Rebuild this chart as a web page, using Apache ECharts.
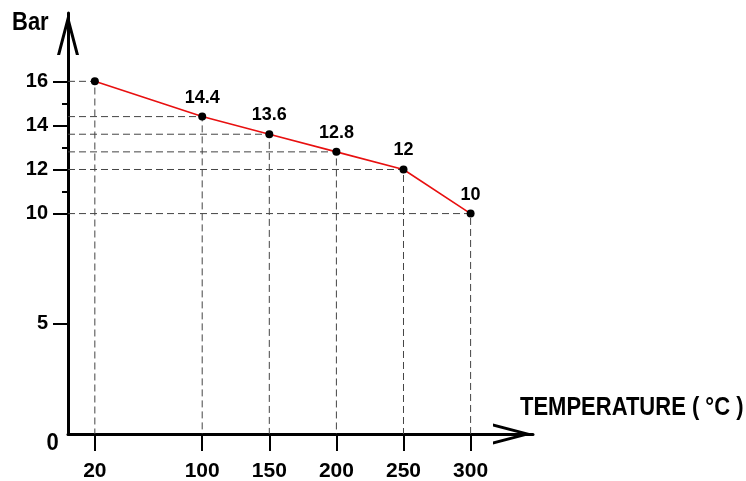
<!DOCTYPE html>
<html>
<head>
<meta charset="utf-8">
<script src="https://cdn.jsdelivr.net/npm/echarts@6/dist/echarts.min.js"></script>
<style>html,body{margin:0;padding:0;background:#fff;}#c{width:746px;height:481px;}</style>
</head>
<body>
<div id="c"></div>
<script>
// Data
const temperatures = [20, 100, 150, 200, 250, 300];
const pressures = [16, 14.4, 13.6, 12.8, 12, 10];
const labelledPoints = [false, true, true, true, true, true];
const xTickLabels = [20, 100, 150, 200, 250, 300];
const yTickLabels = [0, 5, 10, 12, 14, 16];
const yMajorTicks = [5, 10, 12, 14, 16];
const yMinorTicks = [11, 13, 15];
const xAxisTitle = 'TEMPERATURE ( °C )';
const yAxisTitle = 'Bar';

const FONT = '"Liberation Sans", Arial, sans-serif';
const chevron = 'path://M11 0 L22 42 L18.9 42 L11 11.8 L3.1 42 L0 42 Z';

const guideSeries = temperatures.map((t, i) => ({
  type: 'line',
  data: [[0, pressures[i]], [t, pressures[i]], [t, 0]],
  symbol: 'none',
  silent: true,
  z: 1,
  lineStyle: { color: '#444', width: 1, type: [7, 4] }
}));

const chart = echarts.init(document.getElementById('c'));
chart.setOption({
  animation: false,
  backgroundColor: '#fff',
  grid: { left: 68, top: 13, right: 213, bottom: 47, containLabel: false, outerBoundsMode: 'none' },
  xAxis: {
    type: 'value', min: 0, max: 346.5,
    splitLine: { show: false },
    axisLine: {
      show: true,
      lineStyle: { color: '#000', width: 3 },
      symbol: ['none', chevron], symbolSize: [23, 40], symbolOffset: [0, -20]
    },
    axisTick: { show: true, customValues: xTickLabels, length: 17, lineStyle: { color: '#000', width: 2 } },
    axisLabel: {
      show: true, customValues: xTickLabels, margin: 27,
      color: '#000', fontSize: 21, fontWeight: 'bold', fontFamily: FONT
    }
  },
  yAxis: [{
    type: 'value', min: 0, max: 19.1,
    splitLine: { show: false },
    axisLine: {
      show: true,
      lineStyle: { color: '#000', width: 3 },
      symbol: ['none', chevron], symbolSize: [22, 42], symbolOffset: [0, -21]
    },
    axisTick: { show: true, customValues: yMajorTicks, length: 15, lineStyle: { color: '#000', width: 2 } },
    axisLabel: {
      show: true, customValues: yTickLabels.filter(v => v !== 0), margin: 20,
      color: '#000', fontSize: 20, fontWeight: 'bold', fontFamily: FONT
    }
  }, {
    type: 'value', min: 0, max: 19.1, position: 'left',
    splitLine: { show: false },
    axisLine: { show: false },
    axisTick: { show: true, customValues: yMinorTicks, length: 6, lineStyle: { color: '#000', width: 2 } },
    axisLabel: { show: false }
  }],
  graphic: [
    { type: 'text', left: 12, top: 10, scaleY: 1.15, style: { text: yAxisTitle, fill: '#000', font: 'bold 22px ' + FONT } },
    { type: 'text', left: 520, top: 395, scaleY: 1.15, style: { text: xAxisTitle, fill: '#000', font: 'bold 22px ' + FONT } },
    { type: 'text', x: 52.5, y: 443.5, scaleY: 1.12, style: { text: String(yTickLabels[0]), fill: '#000', font: 'bold 22px ' + FONT, align: 'center', verticalAlign: 'middle' } }
  ],
  series: guideSeries.concat([{
    type: 'line',
    data: temperatures.map((t, i) => ({
      value: [t, pressures[i]],
      label: { show: labelledPoints[i] }
    })),
    z: 5,
    symbol: 'circle',
    symbolSize: 8,
    itemStyle: { color: '#000' },
    lineStyle: { color: '#e81010', width: 1.6 },
    label: {
      show: true, position: 'top', distance: 6,
      color: '#000', fontSize: 18, fontWeight: 'bold', fontFamily: FONT,
      formatter: p => String(p.value[1])
    }
  }])
});
</script>
</body>
</html>
